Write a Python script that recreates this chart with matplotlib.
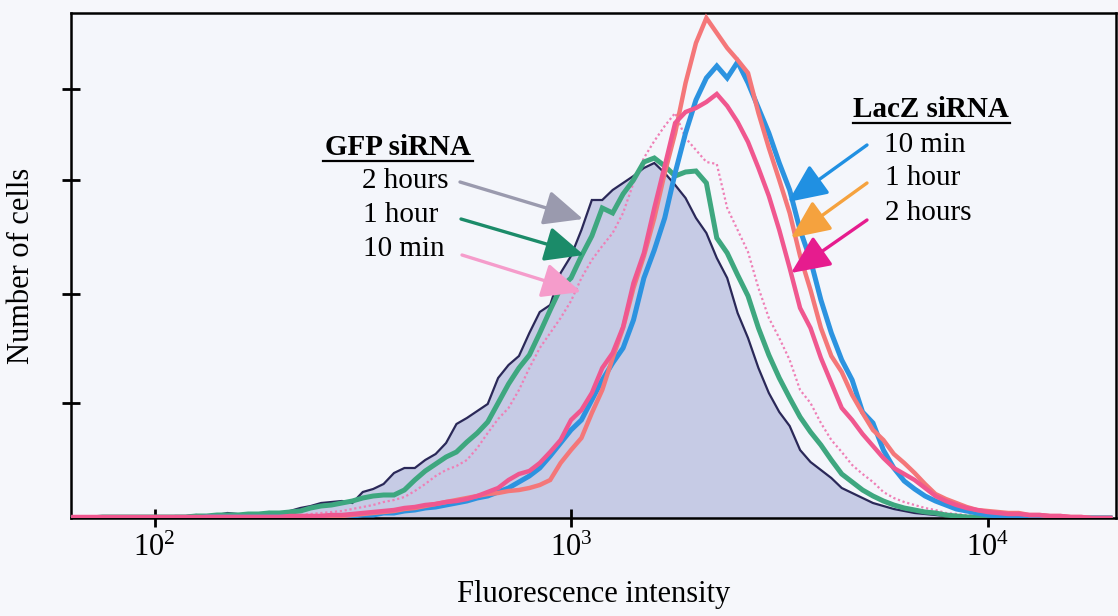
import numpy as np
import matplotlib
matplotlib.use("Agg")
import matplotlib.pyplot as plt
from matplotlib.lines import Line2D
from matplotlib.ticker import NullLocator

plt.rcParams['font.family'] = ['Liberation Serif', 'DejaVu Serif']
plt.rcParams['mathtext.fontset'] = 'custom'
plt.rcParams['mathtext.rm'] = 'Liberation Serif'

# Cytometer channels: log-spaced fluorescence bins (log10 start and bin width)
log_start, log_step, n_channels = 1.80, 0.025, 101
channels = 10 ** (log_start + log_step * np.arange(n_channels))

# Cell counts per channel
gfp_2h = [0, 0, 1, 1, 1, 1, 1, 1, 1, 1,
          2, 2, 3, 2, 3, 5, 4, 3, 4, 6,
          5, 7, 10, 12, 15, 16, 17, 15, 26, 29,
          34, 45, 50, 50, 58, 64, 75, 94, 100, 107,
          114, 140, 153, 162, 185, 206, 213, 245, 262, 288,
          318, 318, 328, 335, 342, 350, 355, 345, 333, 320,
          300, 285, 260, 240, 205, 180, 150, 125, 106, 92,
          68, 56, 48, 40, 30, 25, 20, 15, 12, 9,
          7, 5, 4, 3, 2, 1, 1, 1, 0, 0,
          0, 0, 0, 0, 0, 0, 0, 0, 0, 0,
          0]
gfp_1h = [0, 0, 0, 1, 1, 1, 1, 1, 1, 1,
          1, 1, 2, 2, 3, 3, 3, 4, 4, 5,
          5, 6, 7, 10, 12, 13, 15, 17, 20, 22,
          23, 23, 28, 38, 47, 54, 61, 66, 76, 85,
          96, 115, 134, 150, 163, 185, 208, 230, 240, 262,
          282, 310, 305, 324, 338, 356, 360, 352, 342, 346,
          347, 335, 280, 265, 243, 222, 190, 163, 140, 120,
          101, 86, 73, 58, 44, 36, 28, 22, 17, 13,
          10, 8, 6, 5, 3, 2, 1, 1, 0, 0,
          0, 0, 0, 0, 0, 0, 0, 0, 0, 0,
          0]
gfp_10min = [0, 0, 0, 0, 0, 0, 1, 1, 1, 1,
             1, 1, 1, 1, 1, 1, 1, 1, 1, 1,
             1, 2, 3, 4, 5, 6, 7, 9, 11, 13,
             16, 18, 21, 27, 34, 42, 48, 52, 58, 70,
             85, 99, 110, 128, 150, 170, 185, 200, 217, 240,
             258, 272, 285, 305, 335, 360, 377, 392, 405, 380,
             368, 356, 354, 310, 288, 266, 230, 200, 180, 158,
             128, 115, 95, 78, 66, 53, 44, 36, 26, 20,
             16, 13, 10, 8, 5, 4, 3, 2, 1, 1,
             0, 0, 0, 0, 0, 0, 0, 0, 0, 0,
             0]
lacz_10min = [0, 0, 0, 0, 0, 0, 0, 0, 0, 0,
              0, 0, 0, 1, 1, 1, 1, 1, 1, 1,
              1, 1, 1, 1, 1, 2, 2, 2, 3, 3,
              5, 5, 7, 8, 10, 11, 13, 15, 17, 20,
              22, 26, 30, 36, 42, 50, 62, 75, 88, 98,
              118, 138, 155, 170, 198, 240, 268, 300, 345, 385,
              418, 440, 452, 440, 456, 435, 410, 385, 355, 328,
              288, 258, 218, 185, 158, 138, 106, 95, 68, 50,
              37, 29, 22, 17, 13, 9, 7, 5, 3, 2,
              1, 1, 0, 0, 0, 0, 0, 0, 0, 0,
              0]
lacz_1h = [0, 0, 0, 0, 0, 0, 0, 0, 0, 0,
           0, 0, 0, 1, 1, 1, 1, 1, 1, 1,
           1, 1, 1, 1, 2, 2, 2, 3, 4, 5,
           6, 7, 9, 10, 12, 14, 16, 18, 20, 22,
           24, 25, 27, 28, 30, 33, 38, 55, 68, 80,
           105, 128, 160, 190, 230, 262, 300, 345, 385, 435,
           475, 500, 485, 470, 458, 445, 405, 370, 338, 305,
           262, 228, 190, 162, 146, 123, 105, 88, 78, 64,
           55, 45, 34, 24, 19, 15, 11, 8, 7, 6,
           5, 5, 3, 3, 2, 2, 1, 1, 0, 0,
           0]
lacz_2h = [1, 1, 1, 1, 1, 1, 1, 1, 1, 1,
           1, 1, 1, 1, 1, 1, 1, 1, 1, 1,
           1, 2, 2, 2, 2, 3, 3, 4, 5, 6,
           7, 8, 10, 11, 13, 14, 16, 17, 19, 22,
           26, 30, 38, 44, 47, 55, 66, 78, 98, 108,
           125, 150, 165, 191, 235, 265, 310, 352, 395, 406,
           410, 416, 424, 412, 396, 376, 350, 322, 288, 250,
           210, 190, 160, 135, 110, 98, 84, 72, 60, 50,
           44, 38, 30, 22, 17, 13, 10, 8, 6, 5,
           4, 4, 3, 3, 2, 2, 1, 1, 0, 0,
           0]

x_ticks = [1e2, 1e3, 1e4]
x_tick_labels = [r'$\mathregular{10^{2}}$', r'$\mathregular{10^{3}}$', r'$\mathregular{10^{4}}$']
y_ticks = [115, 224, 338, 429]

W, H = 1118, 616
fig = plt.figure(figsize=(W / 100, H / 100), dpi=100, facecolor='#f6f7fb')
ax = fig.add_axes([71 / W, 98 / H, 1045 / W, 505 / H], facecolor='#f4f6fb')

line_kw = dict(solid_joinstyle='miter', solid_capstyle='butt')
# Filled reference histogram
ax.fill_between(channels, gfp_2h, color='#c6cbe5', lw=0, zorder=1)
ax.plot(channels, gfp_2h, color='#2a2858', lw=1.6, zorder=2, **line_kw)
ax.plot(channels, gfp_10min, color='#ef7fb6', lw=1.6,
        linestyle=(0, (1, 1.2)), zorder=3)
ax.plot(channels, gfp_1h, color='#3ea77f', lw=3.6, zorder=4, **line_kw)
ax.plot(channels, lacz_10min, color='#2c93e0', lw=3.6, zorder=5, **line_kw)
ax.plot(channels, lacz_1h, color='#f47779', lw=3.2, zorder=6, **line_kw)
ax.plot(channels, lacz_2h, color='#f0578f', lw=3.2, zorder=7, **line_kw)

ax.set_xscale('log')
ax.set_xlim(10 ** 1.7995, 10 ** 4.3085)
ax.set_ylim(0, 505)
ax.set_xticks(x_ticks)
ax.set_xticklabels(x_tick_labels)
ax.xaxis.set_minor_locator(NullLocator())
ax.set_yticks(y_ticks)
ax.set_yticklabels([])
ax.tick_params(axis='both', direction='inout', length=13, width=2.0,
               color='black', labelsize=22, pad=5)
for s in ax.spines.values():
    s.set_linewidth(1.8)
    s.set_color('black')

ax.set_xlabel('Fluorescence intensity', fontsize=22, labelpad=12)
ax.set_ylabel('Number of cells', fontsize=22, labelpad=14)


def fig_xy(px, py):
    return px / W, 1 - py / H


def label(px, py, text, bold=False):
    fig.text(*fig_xy(px, py), text, fontsize=21, ha='left', va='baseline',
             fontweight='bold' if bold else 'normal')


def underline(x0, x1, py):
    (a, b), (c, d) = fig_xy(x0, py), fig_xy(x1, py)
    fig.add_artist(Line2D([a, c], [b, d], color='black', lw=1.6))


def arrow(tail, tip, color):
    ax.annotate('', xy=(tip[0], H - tip[1]), xytext=(tail[0], H - tail[1]),
                xycoords='figure pixels', textcoords='figure pixels',
                arrowprops=dict(arrowstyle='-|>,head_length=1.0,head_width=0.45',
                                mutation_scale=24, lw=2.4, color=color,
                                shrinkA=0, shrinkB=0), zorder=10)


label(325, 155, 'GFP siRNA', bold=True)
underline(323, 473, 161)
label(362, 188, '2 hours')
label(363, 222, '1 hour')
label(363, 256, '10 min')

label(853, 117, 'LacZ siRNA', bold=True)
underline(853, 1010, 123)
label(884, 152, '10 min')
label(885, 185, '1 hour')
label(885, 220, '2 hours')

arrow((460, 182), (583, 219), '#9a9aae')
arrow((461, 219), (584, 255), '#1b8b69')
arrow((462, 255), (581, 292), '#f59ccb')

arrow((867, 145), (788, 202), '#2090e2')
arrow((867, 183), (791, 238), '#f5a23e')
arrow((867, 220), (791, 273), '#e61c8e')

fig.savefig('out.png', dpi=100, facecolor=fig.get_facecolor())
